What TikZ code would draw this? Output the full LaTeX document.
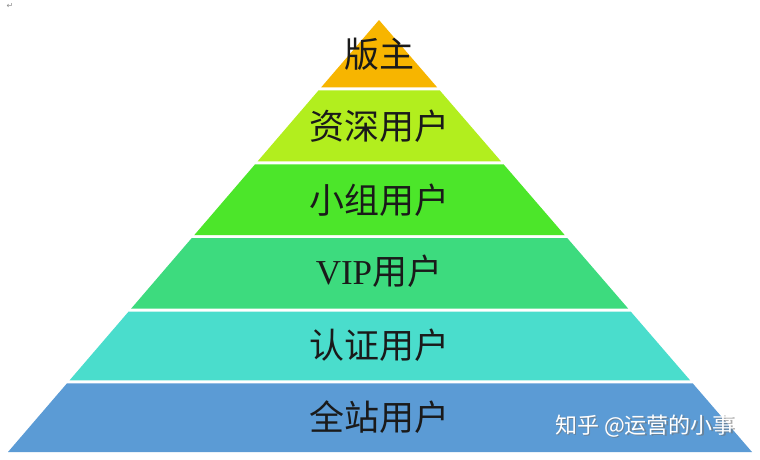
\documentclass[tikz,border=0pt]{standalone}
\usepackage{fontspec}
\setmainfont{Liberation Serif}
\newfontfamily\cjk{Noto Sans CJK SC}
\newfontfamily\symb{DejaVu Sans}
\usepackage{xcolor}
\usetikzlibrary{calc, positioning}

\definecolor{bandA}{HTML}{F7B500}
\definecolor{bandB}{HTML}{B2EE1E}
\definecolor{bandC}{HTML}{4CE62A}
\definecolor{bandD}{HTML}{3DDB7E}
\definecolor{bandE}{HTML}{4ADDCC}
\definecolor{bandF}{HTML}{5B9BD5}
\definecolor{ink}{HTML}{1A1A1A}

\begin{document}
\begin{tikzpicture}[
    x=1pt, y=-1pt,
    level/.style={font=\fontsize{35}{35}\selectfont, text=ink, inner sep=0pt, anchor=center},
    watermark/.style={font=\cjk\fontsize{22}{22}\selectfont, inner sep=0pt, anchor=west}
]
\useasboundingbox (0,0) rectangle (760,459);
\fill[white] (0,0) rectangle (760,459);

\coordinate (apex) at (379,20);
\coordinate (bl) at (8,452);
\coordinate (br) at (752,452);

\foreach \ta/\tb/\col in {0/0.156/bandA, 0.163/0.327/bandB, 0.334/0.498/bandC,
                          0.505/0.668/bandD, 0.675/0.834/bandE, 0.841/1/bandF}
  \fill[\col] ($(apex)!\ta!(bl)$) -- ($(apex)!\ta!(br)$) -- ($(apex)!\tb!(br)$) -- ($(apex)!\tb!(bl)$) -- cycle;

\node[level] (boss) at (379,54) {\cjk 版主};
\node[level] (senior) at (379,126) {\cjk 资深用户};
\node[level] (group) at (379,200) {\cjk 小组用户};
\node[level] (vip) at (379,271) {VIP{\cjk 用户}};
\node[level] (certified) at (379,345) {\cjk 认证用户};
\node[level] (all) at (379,417) {\cjk 全站用户};

\node[watermark, text=black!55, opacity=0.6] at (556.5,427.5) {知乎 @运营的小事};
\node[watermark, text=white] (zhihu) at (555,426) {知乎 @运营的小事};

\node[font=\symb\fontsize{8}{8}\selectfont, text=black!45, inner sep=0pt] (ret) at (10,6) {↵};
\end{tikzpicture}
\end{document}
